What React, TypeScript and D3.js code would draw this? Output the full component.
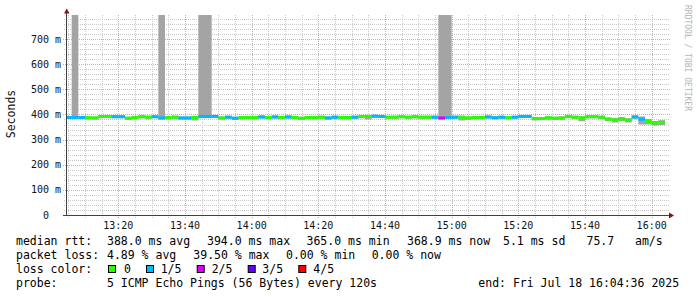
import React from 'react';
import * as d3 from 'd3';

const W = 697;
const H = 297;
const startTime = new Date(Date.UTC(2025, 6, 18, 13, 4, 36));
const endTime = new Date(Date.UTC(2025, 6, 18, 16, 4, 36));
const firstSampleEnd = Date.UTC(2025, 6, 18, 13, 6, 0);
const STEP_MS = 120000;

const medianMs = [
  388, 388, 388, 387, 386, 392, 392, 391, 391, 385,
  388, 391, 389, 391, 386, 387, 389, 386, 386, 388,
  392, 392, 392, 386, 389, 385, 387, 388, 388, 390,
  388, 390, 388, 390, 388, 385, 388, 388, 389, 386,
  389, 388, 388, 389, 392, 392, 393, 392, 389, 389,
  391, 389, 391, 389, 389, 389, 386, 388, 389, 389,
  386, 388, 388, 390, 387, 389, 387, 389, 392, 392,
  384, 384, 387, 385, 386, 392, 389, 387, 391, 391,
  389, 381, 378, 382, 377, 390, 381, 372, 366, 369,
];
const lossLevel = [
  1, 1, 1, 0, 0, 0, 0, 1, 1, 0,
  0, 0, 0, 1, 1, 0, 0, 1, 1, 0,
  1, 1, 1, 0, 1, 1, 0, 0, 0, 1,
  0, 1, 0, 1, 0, 0, 0, 0, 0, 1,
  1, 0, 0, 1, 0, 0, 1, 1, 0, 0,
  0, 0, 0, 0, 0, 1, 2, 1, 1, 0,
  0, 0, 0, 1, 1, 1, 0, 1, 1, 1,
  0, 0, 0, 0, 0, 0, 0, 0, 0, 0,
  0, 0, 0, 0, 0, 1, 1, 0, 0, 0,
];
const smokeLo = [
  382, 382, 383, 381, 380, 386, 386, 385, 385, 379,
  382, 385, 383, 385, 380, 381, 383, 380, 380, 376,
  385, 385, 386, 380, 383, 379, 381, 382, 381, 384,
  382, 384, 382, 384, 382, 379, 382, 381, 383, 380,
  383, 382, 382, 383, 385, 380, 387, 386, 383, 383,
  385, 383, 385, 383, 383, 383, 380, 382, 383, 376,
  379, 382, 382, 384, 381, 383, 381, 383, 386, 386,
  376, 377, 379, 378, 379, 385, 383, 373, 385, 385,
  382, 374, 368, 374, 368, 383, 360, 360, 356, 358,
];
const smokeHi = [
  394, 1200, 394, 393, 392, 397, 398, 397, 397, 391,
  394, 397, 395, 397, 1200, 393, 395, 392, 392, 394,
  1200, 1200, 398, 392, 395, 391, 393, 394, 394, 396,
  394, 396, 394, 396, 394, 391, 394, 394, 395, 392,
  395, 394, 394, 395, 398, 398, 399, 398, 395, 395,
  397, 395, 397, 395, 395, 395, 1200, 1200, 395, 395,
  392, 394, 394, 396, 393, 395, 393, 395, 398, 398,
  390, 390, 393, 391, 392, 398, 395, 393, 397, 397,
  395, 388, 386, 390, 385, 396, 392, 382, 374, 377,
];

const lossColors = ['#26ff00', '#00b8ff', '#dd00ff', '#5e00ff', '#ff0000'];
const lossLabels = ['0', '1/5', '2/5', '3/5', '4/5'];
const yMajorTicks = [0, 100, 200, 300, 400, 500, 600, 700];

const MONO = '"DejaVu Sans Mono", "Liberation Mono", monospace';

export default function App() {
  const x = d3.scaleUtc().domain([startTime, endTime]).range([67, 667]);
  const y = d3.scaleLinear().domain([0, 795.6]).range([215, 15]);
  const fmt = d3.utcFormat('%H:%M');

  const minorX = d3.utcMinute.every(5)!.range(startTime, endTime);
  const majorX = d3.utcMinute.every(20)!.range(startTime, endTime);
  const minorY = d3.range(20, 795, 20).filter((v) => v % 100 !== 0);

  const samples = medianMs.map((m, i) => {
    const t1 = firstSampleEnd + i * STEP_MS;
    const t0 = Math.max(t1 - STEP_MS, +startTime);
    return { x0: x(new Date(t0)), x1: x(new Date(t1)), m, lo: smokeLo[i], hi: smokeHi[i], c: lossColors[lossLevel[i]] };
  });

  const legend1: [string, number][] = [
    ['median rtt:', 16], ['388.0 ms avg', 107], ['394.0 ms max', 207], ['365.0 ms min', 306.5],
    ['368.9 ms now', 407], ['5.1 ms sd', 503], ['75.7', 586.5], ['am/s', 635],
  ];
  const legend2: [string, number][] = [
    ['packet loss:', 16], ['4.89 % avg', 107], ['39.50 % max', 193.3], ['0.00 % min', 286], ['0.00 % now', 371.7],
  ];
  const boxX = [108, 146, 196.7, 247.7, 298.3];
  const boxLabelX = [124, 160.7, 211.7, 262.3, 313.3];

  return (
    <svg width={W} height={H} style={{ position: 'fixed', left: 0, top: 0, background: '#fff' }}
      fontFamily={MONO}>
      <rect x={0} y={0} width={W} height={H} fill="#fff" />
      <defs>
        <clipPath id="plot"><rect x={67} y={15} width={600} height={200} /></clipPath>
      </defs>
      {minorX.filter((d) => d.getUTCMinutes() % 20 !== 0).map((d, i) => (
        <line key={'mx' + i} x1={Math.round(x(d)) + 0.5} x2={Math.round(x(d)) + 0.5} y1={15} y2={218}
          stroke="#c8c8c8" strokeDasharray="1,1" />
      ))}
      {minorY.map((v, i) => (
        <line key={'my' + i} x1={64} x2={670} y1={Math.round(y(v)) + 0.5} y2={Math.round(y(v)) + 0.5}
          stroke="#c8c8c8" strokeDasharray="1,1" />
      ))}
      {majorX.map((d, i) => (
        <line key={'Mx' + i} x1={Math.round(x(d)) + 0.5} x2={Math.round(x(d)) + 0.5} y1={15} y2={218}
          stroke="#eba0a0" strokeDasharray="1,1" />
      ))}
      {yMajorTicks.filter((v) => v > 0).map((v, i) => (
        <line key={'My' + i} x1={63} x2={670} y1={Math.round(y(v)) + 0.5} y2={Math.round(y(v)) + 0.5}
          stroke="#eba0a0" strokeDasharray="1,1" />
      ))}
      <g clipPath="url(#plot)">
        {samples.map((s, i) => (
          <rect key={'s' + i} x={s.x0} width={s.x1 - s.x0} y={y(s.hi)} height={y(s.lo) - y(s.hi)} fill="#a4a4a4" />
        ))}
        {samples.map((s, i) => (
          <rect key={'m' + i} x={s.x0} width={s.x1 - s.x0} y={y(s.m) - 1.5} height={3} fill={s.c} />
        ))}
      </g>
      <line x1={66.5} x2={66.5} y1={11} y2={215} stroke="#404040" />
      <line x1={63} x2={670} y1={215.5} y2={215.5} stroke="#404040" />
      <path d="M64,13.5 L69.5,13.5 L66.75,8.5 Z" fill="#8b1010" />
      <path d="M669,212.5 L669,218.5 L674,215.5 Z" fill="#8b1010" />
      {yMajorTicks.map((v) => (
        <text key={'yl' + v} x={v === 0 ? 49 : 61} y={y(v) + 3.6} textAnchor="end" fontSize={10} fill="#111">
          {v === 0 ? '0' : `${v} m`}
        </text>
      ))}
      {majorX.map((d, i) => (
        <text key={'xl' + i} x={x(d)} y={228.5} textAnchor="middle" fontSize={10} fill="#111">{fmt(d)}</text>
      ))}
      <text transform="translate(15,114) rotate(-90)" textAnchor="middle" fontSize={11.5} fill="#111">Seconds</text>
      <text transform="translate(685,5) rotate(90)" fontSize={8} fill="#b4b4b4">RRDTOOL / TOBI OETIKER</text>
      <g fontSize={11.5} fill="#000">
        {legend1.map(([t, lx], i) => <text key={'l1' + i} x={lx} y={245}>{t}</text>)}
        {legend2.map(([t, lx], i) => <text key={'l2' + i} x={lx} y={259}>{t}</text>)}
        <text x={16} y={273}>loss color:</text>
        {lossColors.map((c, i) => (
          <g key={'lc' + i}>
            <rect x={boxX[i] + 0.5} y={265.5} width={7} height={7} fill={c} stroke="#000" />
            <text x={boxLabelX[i]} y={273}>{lossLabels[i]}</text>
          </g>
        ))}
        <text x={16} y={287}>probe:</text>
        <text x={107} y={287}>5 ICMP Echo Pings (56 Bytes) every 120s</text>
        <text x={478.3} y={287}>end: Fri Jul 18 16:04:36 2025</text>
      </g>
    </svg>
  );
}
